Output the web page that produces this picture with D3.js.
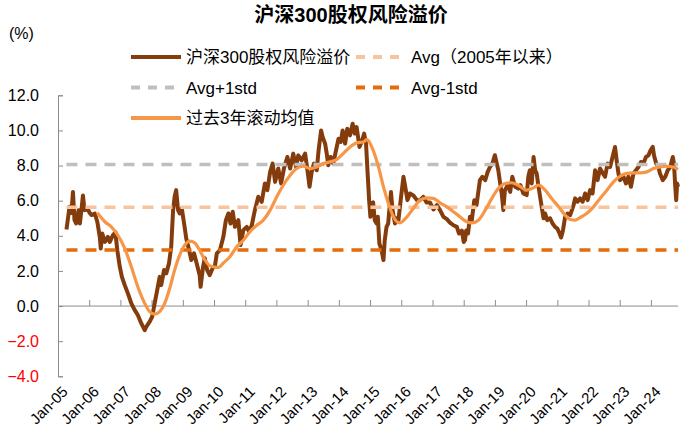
<!DOCTYPE html>
<html><head><meta charset="utf-8">
<script src="https://cdn.jsdelivr.net/npm/d3@7/dist/d3.min.js"></script>
<style>
html,body{margin:0;padding:0;background:#fff;}
svg{display:block;font-family:"Liberation Sans",Arial,"Noto Sans CJK SC",sans-serif;}
</style></head>
<body>
<svg id="chart" width="692" height="444"></svg>
<script>
// ---- data (decimal years -> values, %) ----
const riskYears = [2005.27,2005.32,2005.37,2005.43,2005.48,2005.53,2005.58,2005.66,2005.70,2005.76,2005.80,2005.85,2005.96,2006.02,2006.07,2006.18,2006.26,2006.34,2006.37,2006.42,2006.50,2006.60,2006.66,2006.76,2006.84,2006.90,2006.98,2007.05,2007.14,2007.24,2007.35,2007.46,2007.56,2007.67,2007.78,2007.83,2007.94,2008.02,2008.10,2008.18,2008.26,2008.31,2008.40,2008.47,2008.56,2008.63,2008.69,2008.74,2008.79,2008.85,2008.90,2008.97,2009.04,2009.11,2009.19,2009.27,2009.36,2009.43,2009.54,2009.57,2009.65,2009.70,2009.78,2009.86,2009.95,2010.03,2010.09,2010.19,2010.30,2010.38,2010.46,2010.53,2010.60,2010.67,2010.78,2010.85,2010.94,2011.05,2011.13,2011.21,2011.31,2011.42,2011.53,2011.63,2011.71,2011.80,2011.88,2011.96,2012.06,2012.15,2012.24,2012.35,2012.44,2012.54,2012.63,2012.70,2012.81,2012.92,2013.00,2013.06,2013.13,2013.20,2013.29,2013.35,2013.43,2013.48,2013.56,2013.61,2013.66,2013.74,2013.82,2013.91,2013.99,2014.06,2014.12,2014.20,2014.27,2014.36,2014.44,2014.51,2014.57,2014.66,2014.73,2014.81,2014.87,2014.93,2014.97,2015.01,2015.05,2015.10,2015.15,2015.21,2015.25,2015.30,2015.37,2015.43,2015.47,2015.53,2015.58,2015.67,2015.72,2015.80,2015.85,2015.91,2015.96,2016.02,2016.07,2016.13,2016.20,2016.28,2016.39,2016.50,2016.60,2016.71,2016.81,2016.92,2017.03,2017.14,2017.24,2017.35,2017.46,2017.56,2017.67,2017.78,2017.85,2017.94,2018.00,2018.04,2018.08,2018.14,2018.20,2018.26,2018.34,2018.41,2018.52,2018.60,2018.69,2018.77,2018.84,2018.92,2019.00,2019.06,2019.11,2019.17,2019.22,2019.27,2019.32,2019.41,2019.49,2019.56,2019.65,2019.75,2019.82,2019.91,2020.02,2020.07,2020.12,2020.18,2020.24,2020.29,2020.34,2020.40,2020.45,2020.50,2020.56,2020.61,2020.68,2020.77,2020.85,2020.93,2021.00,2021.07,2021.12,2021.18,2021.25,2021.33,2021.41,2021.52,2021.57,2021.65,2021.73,2021.81,2021.89,2021.97,2022.05,2022.13,2022.21,2022.29,2022.37,2022.46,2022.53,2022.61,2022.69,2022.77,2022.85,2022.90,2022.96,2023.01,2023.12,2023.20,2023.28,2023.36,2023.44,2023.52,2023.60,2023.68,2023.76,2023.84,2023.92,2023.99,2024.06,2024.10,2024.17,2024.24,2024.29,2024.38,2024.46,2024.54,2024.62,2024.70,2024.74,2024.78,2024.81,2024.84,2024.87];
const riskValues = [4.36,5.0,5.65,5.3,6.5,4.9,4.7,5.46,4.7,5.6,6.3,5.46,5.5,5.3,5.18,5.27,4.8,3.94,3.28,4.13,3.65,3.94,3.65,4.03,4.2,3.18,2.24,1.66,1.19,0.72,0.15,-0.23,-0.51,-0.99,-1.37,-1.18,-0.89,-0.61,0.15,0.91,1.66,1.19,2.05,1.86,2.43,3.37,5.46,6.22,6.6,5.46,5.27,5.55,4.7,3.85,3.28,2.62,3.0,2.52,1.76,1.1,2.24,2.72,2.05,1.76,2.14,2.3,3.0,3.18,3.94,4.89,5.27,4.7,5.37,4.51,4.89,3.47,4.32,4.51,4.23,4.6,5.46,6.22,5.93,6.98,6.6,7.64,8.11,7.07,7.83,6.98,7.83,8.49,7.83,8.68,7.92,8.58,8.3,8.68,7.64,6.79,7.64,8.11,7.73,8.87,10.0,9.63,9.25,8.68,8.02,8.49,8.11,8.87,9.53,9.34,10.0,9.25,10.1,9.72,10.38,9.82,10.19,9.06,9.34,9.82,9.25,7.36,6.03,5.08,5.84,5.9,4.89,4.7,5.08,3.56,3.18,2.62,3.75,4.51,4.7,6.5,5.46,4.7,5.0,4.89,5.65,6.6,7.36,6.79,6.03,6.41,6.3,6.03,6.03,6.22,5.9,5.9,5.5,5.75,5.46,5.08,4.95,4.75,4.6,4.51,4.13,4.3,3.65,3.75,4.3,4.13,5.08,4.89,6.03,5.75,7.17,7.36,7.17,7.64,7.92,8.11,8.59,8.11,7.73,6.98,6.41,5.46,6.6,6.88,6.5,7.36,6.79,6.69,6.88,6.41,6.32,7.36,7.73,6.98,8.49,7.73,7.55,6.79,6.22,5.65,5.0,5.27,4.89,5.0,4.7,4.51,4.41,4.13,3.9,4.32,5.08,5.27,5.18,5.75,6.13,5.94,6.13,5.94,6.41,6.03,6.6,6.41,7.73,7.17,7.83,7.55,7.36,8.11,7.92,8.49,9.06,8.3,7.55,7.17,7.36,6.98,7.36,6.79,7.55,7.73,7.92,8.2,8.11,8.49,8.58,8.87,9.06,8.58,8.11,7.92,7.55,7.17,7.36,7.73,7.92,8.49,8.11,6.79,6.03,6.98,6.79];

const rollYears = [2006.26,2006.50,2006.71,2006.92,2007.14,2007.35,2007.56,2007.78,2007.94,2008.10,2008.26,2008.42,2008.58,2008.74,2008.90,2009.06,2009.22,2009.38,2009.54,2009.70,2009.86,2010.02,2010.15,2010.30,2010.51,2010.73,2010.94,2011.15,2011.37,2011.58,2011.80,2012.01,2012.22,2012.44,2012.65,2012.86,2013.08,2013.29,2013.50,2013.72,2013.93,2014.14,2014.36,2014.57,2014.79,2014.89,2015.10,2015.27,2015.43,2015.59,2015.75,2015.86,2015.96,2016.18,2016.39,2016.60,2016.82,2017.03,2017.24,2017.46,2017.67,2017.88,2018.10,2018.26,2018.47,2018.69,2018.90,2019.11,2019.33,2019.54,2019.75,2020.02,2020.20,2020.40,2020.61,2020.82,2021.04,2021.25,2021.41,2021.57,2021.73,2021.94,2022.16,2022.37,2022.59,2022.80,2023.01,2023.23,2023.44,2023.65,2023.87,2024.08,2024.29,2024.51,2024.72,2024.87];
const rollValues = [5.31,4.8,4.51,4.03,3.28,2.24,1.1,0.15,-0.32,-0.46,-0.32,0.15,1.0,2.05,2.9,3.47,3.7,3.6,3.18,2.65,2.3,2.22,2.2,2.45,2.81,3.37,3.75,4.23,4.6,4.89,5.46,6.22,6.88,7.45,7.83,7.96,7.83,7.92,8.11,8.21,8.34,8.68,9.06,9.29,9.34,9.48,8.87,7.92,6.79,5.84,5.08,4.8,4.74,5.08,5.56,6.03,6.16,6.13,5.88,5.65,5.37,5.08,4.8,4.74,4.89,5.46,6.13,6.69,6.98,7.02,6.88,6.6,6.7,6.88,6.6,6.13,5.65,5.18,4.93,4.89,5.04,5.27,5.65,6.13,6.6,7.07,7.39,7.55,7.58,7.58,7.64,7.83,7.92,7.96,7.92,7.78];

const refNames = ["Avg（2005年以来）","Avg+1std","Avg-1std"];
const refValues = [5.62, 8.06, 3.19];

const yTicks = [-4,-2,0,2,4,6,8,10,12];
const xTickLabels = ["Jan-05","Jan-06","Jan-07","Jan-08","Jan-09","Jan-10","Jan-11","Jan-12","Jan-13","Jan-14","Jan-15","Jan-16","Jan-17","Jan-18","Jan-19","Jan-20","Jan-21","Jan-22","Jan-23","Jan-24"];
const seriesNames = ["沪深300股权风险溢价","过去3年滚动均值"];
const titleText = "沪深300股权风险溢价";

// ---- helpers ----
function toDate(y){ const yr=Math.floor(y); return new Date(yr,0,1+Math.round((y-yr)*365)); }
const risk = riskYears.map((t,i)=>({d:toDate(t),v:riskValues[i]}));
const roll = rollYears.map((t,i)=>({d:toDate(t),v:rollValues[i]}));

const C = {brown:"#843C0C", roll:"#F79646", avg:"#F8C49E", plus:"#BFBFBF", minus:"#E46C0A", axis:"#8C8C8C"};

const svg = d3.select("#chart");
const x = d3.scaleTime().domain([new Date(2005,0,1), new Date(2024,10,13)]).range([58,678]);
const y = d3.scaleLinear().domain([-4,12]).range([376.3,95.3]);

// title
svg.append("text").attr("x",351).attr("y",22).attr("text-anchor","middle")
  .attr("font-size",20).attr("font-weight","bold").attr("fill","#000").text(titleText);
svg.append("text").attr("x",9).attr("y",39).attr("font-size",16).attr("fill","#000").text("(%)");

// y axis
const yAxis = d3.axisLeft(y).tickValues(yTicks).tickFormat(d3.format(".1f")).tickSize(-5).tickPadding(19);
const gy = svg.append("g").attr("transform","translate(58,0)").call(yAxis);
gy.select(".domain").attr("stroke",C.axis);
gy.selectAll(".tick line").attr("stroke",C.axis);
gy.selectAll(".tick text").attr("font-size",16).attr("font-family",'"Liberation Sans",Arial,sans-serif')
  .attr("fill",d=>d<0?"#FF0000":"#000");

// x axis at zero
const jan = xTickLabels.map((s,i)=>new Date(2005+i,0,1));
const xAxis = d3.axisBottom(x).tickValues(jan).tickSize(-6).tickFormat("");
const gx = svg.append("g").attr("transform",`translate(0,${y(0)})`).call(xAxis);
gx.select(".domain").attr("stroke",C.axis).attr("d",`M58,0H678`);
gx.selectAll(".tick line").attr("stroke",C.axis);

// x labels at bottom, rotated
svg.append("g").selectAll("text").data(jan).join("text")
  .attr("transform",(d)=>`translate(${x(d)+7},${389}) rotate(-45)`)
  .attr("text-anchor","end").attr("dy","0.35em")
  .attr("font-size",15).attr("fill","#000").text((d,i)=>xTickLabels[i]);

// series
const line = d3.line().x(d=>x(d.d)).y(d=>y(d.v));
svg.append("path").datum(risk).attr("d",line).attr("fill","none")
  .attr("stroke",C.brown).attr("stroke-width",4).attr("stroke-linejoin","round");

const x0 = x(risk[0].d), x1 = x(risk[risk.length-1].d);
const refColors = [C.avg, C.plus, C.minus];
svg.append("g").selectAll("line").data(refValues).join("line")
  .attr("x1",x0).attr("x2",x1).attr("y1",d=>y(d)).attr("y2",d=>y(d))
  .attr("stroke",(d,i)=>refColors[i]).attr("stroke-width",3.5).attr("stroke-dasharray","11,8");

const smooth = d3.line().x(d=>x(d.d)).y(d=>y(d.v)).curve(d3.curveMonotoneX);
svg.append("path").datum(roll).attr("d",smooth).attr("fill","none")
  .attr("stroke",C.roll).attr("stroke-width",3.2).attr("stroke-linejoin","round");

// legend
const legend = [
  {name:seriesNames[0], color:C.brown, dash:null, lx:131, ly:57},
  {name:refNames[0], color:C.avg, dash:"9,8", lx:356, ly:57},
  {name:refNames[1], color:C.plus, dash:"9,8", lx:131, ly:87.5},
  {name:refNames[2], color:C.minus, dash:"9,8", lx:356, ly:87.5},
  {name:seriesNames[1], color:C.roll, dash:null, lx:131, ly:118}
];
const lg = svg.append("g").selectAll("g").data(legend).join("g");
lg.append("line").attr("x1",d=>d.lx).attr("x2",d=>d.lx+50).attr("y1",d=>d.ly).attr("y2",d=>d.ly)
  .attr("stroke",d=>d.color).attr("stroke-width",4).attr("stroke-dasharray",d=>d.dash);
lg.append("text").attr("x",d=>d.lx+55).attr("y",d=>d.ly).attr("dy","0.36em")
  .attr("font-size",17).attr("fill","#000").text(d=>d.name);
</script>
</body></html>
